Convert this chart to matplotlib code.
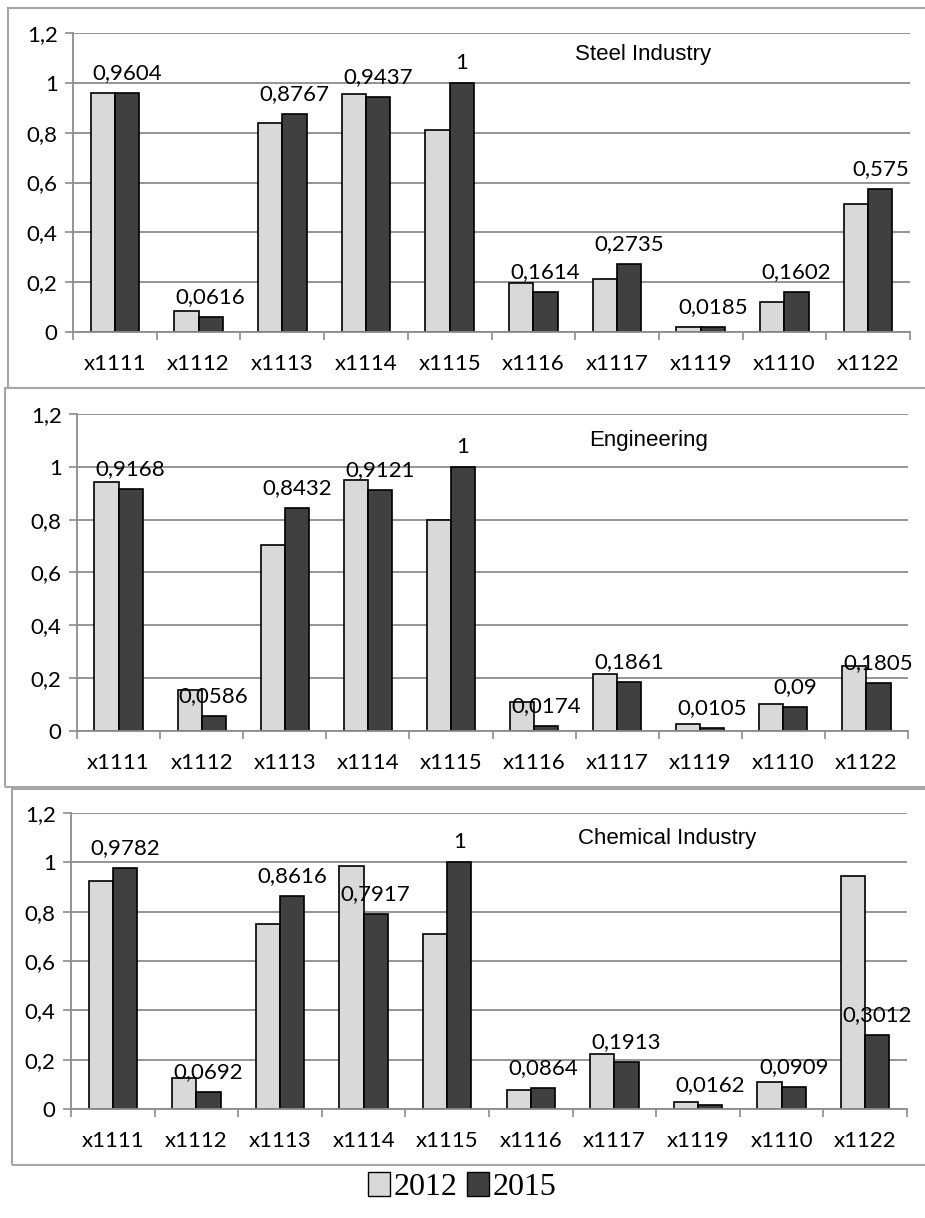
import numpy as np
import matplotlib
matplotlib.use("Agg")
import matplotlib.pyplot as plt
from matplotlib.patches import Rectangle, Patch

categories = ["x1111", "x1112", "x1113", "x1114", "x1115",
              "x1116", "x1117", "x1119", "x1110", "x1122"]

steel_2012 = [0.958, 0.083, 0.838, 0.954, 0.809, 0.197, 0.212, 0.020, 0.122, 0.512]
steel_2015 = [0.9604, 0.0616, 0.8767, 0.9437, 1, 0.1614, 0.2735, 0.0185, 0.1602, 0.575]

eng_2012 = [0.942, 0.157, 0.704, 0.949, 0.799, 0.110, 0.214, 0.025, 0.104, 0.247]
eng_2015 = [0.9168, 0.0586, 0.8432, 0.9121, 1, 0.0174, 0.1861, 0.0105, 0.09, 0.1805]

chem_2012 = [0.923, 0.124, 0.752, 0.985, 0.710, 0.077, 0.221, 0.028, 0.111, 0.945]
chem_2015 = [0.9782, 0.0692, 0.8616, 0.7917, 1, 0.0864, 0.1913, 0.0162, 0.0909, 0.3012]

yticks = [0, 0.2, 0.4, 0.6, 0.8, 1, 1.2]
years = ["2012", "2015"]

LIGHT = "#d9d9d9"
DARK = "#404040"
GRID = "#8c8c8c"
W, H = 925, 1218
FONT = ["Lato", "DejaVu Sans"]


def fmt(v):
    return f"{v:g}".replace(".", ",")


def px_axes(fig, left, right, top, bottom):
    return fig.add_axes([left / W, 1 - bottom / H, (right - left) / W, (bottom - top) / H])


def draw_panel(ax, title, v12, v15, title_x, title_y):
    x = np.arange(len(categories))
    bw = 0.29
    ax.bar(x - bw / 2, v12, bw, color=LIGHT, edgecolor="black", linewidth=1.2, zorder=3)
    bars = ax.bar(x + bw / 2, v15, bw, color=DARK, edgecolor="black", linewidth=1.2, zorder=3)
    for b, v in zip(bars, v15):
        ax.annotate(fmt(v), (b.get_x() + b.get_width() / 2, b.get_height()),
                    xytext=(0, 10), textcoords="offset points",
                    ha="center", va="baseline", fontsize=16, family=FONT, zorder=4)

    ax.set_xlim(-0.5, len(categories) - 0.5)
    ax.set_ylim(0, 1.2)
    ax.set_yticks(yticks)
    ax.set_yticklabels([fmt(t) for t in yticks], family=FONT, fontsize=16)
    ax.set_xticks(x)
    ax.set_xticklabels(categories, family=FONT, fontsize=16)
    ax.set_xticks(np.arange(len(categories) + 1) - 0.5, minor=True)
    ax.tick_params(axis="x", which="major", length=0, pad=16)
    ax.tick_params(axis="x", which="minor", length=6, direction="out", color=GRID, width=1.2)
    ax.tick_params(axis="y", length=6, color=GRID, width=1.2, pad=5)
    ax.grid(axis="y", color=GRID, linewidth=1.3, zorder=0)
    ax.set_axisbelow(True)
    for s in ["top", "right"]:
        ax.spines[s].set_visible(False)
    for s in ["left", "bottom"]:
        ax.spines[s].set_color(GRID)
        ax.spines[s].set_linewidth(1.3)
    ax.spines["bottom"].set_zorder(5)
    ax.text(title_x, title_y, title, transform=ax.transAxes,
            ha="center", va="center", fontsize=16, family=["Liberation Sans", "DejaVu Sans"])


fig = plt.figure(figsize=(W / 100, H / 100), dpi=100)

# panel frames
for (l, t, r, b) in [(8, 8, 940, 388), (5, 388, 940, 787), (12, 789, 940, 1165)]:
    fig.patches.append(Rectangle((l / W, 1 - b / H), (r - l) / W, (b - t) / H,
                                 transform=fig.transFigure, fill=False,
                                 edgecolor="#a6a6a6", linewidth=1.5))

ax1 = px_axes(fig, 73, 910, 33, 332)
draw_panel(ax1, "Steel Industry", steel_2012, steel_2015, 0.681, 1.112 / 1.2)

ax2 = px_axes(fig, 77, 908, 414, 731)
draw_panel(ax2, "Engineering", eng_2012, eng_2015, 0.688, 1.10 / 1.2)

ax3 = px_axes(fig, 71, 907, 813, 1109)
draw_panel(ax3, "Chemical Industry", chem_2012, chem_2015, 0.713, 1.095 / 1.2)

handles = [Patch(facecolor=LIGHT, edgecolor="black", linewidth=1.0),
           Patch(facecolor=DARK, edgecolor="black", linewidth=1.0)]
fig.legend(handles, years, loc="center", bbox_to_anchor=(462 / W, 1 - 1187 / H),
           ncol=2, frameon=False, handlelength=0.7, handleheight=0.8,
           handletextpad=0.1, columnspacing=0.3,
           prop={"family": ["Liberation Serif", "DejaVu Serif"], "size": 23})

fig.savefig("out.png", dpi=100)
